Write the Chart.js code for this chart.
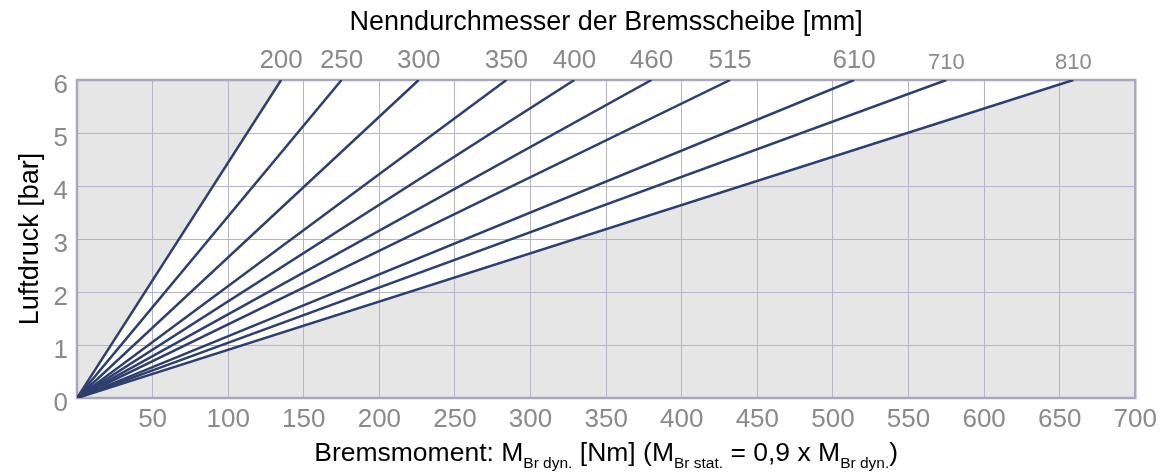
<!DOCTYPE html>
<html>
<head>
<meta charset="utf-8">
<script src="https://cdn.jsdelivr.net/npm/chart.js@4"></script>
<style>
  html, body { margin: 0; padding: 0; background: #fff; }
  #wrap { width: 1163px; height: 474px; }
</style>
</head>
<body>
<div id="wrap"><canvas id="grafico"></canvas></div>
<script>
// Nenndurchmesser der Bremsscheibe [mm] und Bremsmoment bei 6 bar
const durchmesser = ["200", "250", "300", "350", "400", "460", "515", "610", "710", "810"];
const momentBei6bar = [135, 175, 226, 284, 329, 380, 432, 514, 575, 659];
const druckMax = 6;
const xMax = 700;

const schrift = "'Liberation Sans', Arial, sans-serif";
const grau = "#8a8a8a";
const linie = "#2f3f6d";

const datasets = durchmesser.map((d, i) => ({
  label: d,
  data: [{ x: 0, y: 0 }, { x: momentBei6bar[i], y: druckMax }],
  borderColor: linie,
  borderWidth: 2.5,
  pointRadius: 0,
  fill: false,
}));

// grauer Hintergrund + weisser Keil zwischen erster und letzter Linie
const hintergrund = {
  id: "hintergrund",
  beforeDraw(chart) {
    const { ctx, chartArea: a, scales } = chart;
    const x = scales.x, y = scales.y;
    ctx.save();
    ctx.fillStyle = "#e6e6e6";
    ctx.fillRect(a.left, a.top, a.right - a.left, a.bottom - a.top);
    ctx.fillStyle = "#ffffff";
    ctx.beginPath();
    ctx.moveTo(x.getPixelForValue(0), y.getPixelForValue(0));
    ctx.lineTo(x.getPixelForValue(momentBei6bar[0]), y.getPixelForValue(druckMax));
    ctx.lineTo(x.getPixelForValue(momentBei6bar[momentBei6bar.length - 1]), y.getPixelForValue(druckMax));
    ctx.closePath();
    ctx.fill();
    ctx.restore();
  },
  beforeDatasetsDraw(chart) {
    const { ctx, chartArea: a } = chart;
    ctx.save();
    ctx.strokeStyle = "#a9a8bd";
    ctx.lineWidth = 2.5;
    ctx.strokeRect(a.left, a.top, a.right - a.left, a.bottom - a.top);
    ctx.restore();
  },
  afterDraw(chart) {
    // x-Achsentitel mit tiefgestellten Zeichen
    const { ctx, chartArea: a } = chart;
    const teile = [
      ["Bremsmoment: M", false],
      ["Br dyn.", true],
      [" [Nm] (M", false],
      ["Br stat.", true],
      [" = 0,9 x M", false],
      ["Br dyn.", true],
      [")", false],
    ];
    const gross = "26.5px " + schrift;
    const klein = "15.5px " + schrift;
    ctx.save();
    let breite = 0;
    teile.forEach(([t, sub]) => {
      ctx.font = sub ? klein : gross;
      breite += ctx.measureText(t).width;
    });
    let px = (a.left + a.right) / 2 - breite / 2;
    const basis = 461;
    ctx.fillStyle = "#000";
    ctx.textBaseline = "alphabetic";
    ctx.textAlign = "left";
    teile.forEach(([t, sub]) => {
      ctx.font = sub ? klein : gross;
      ctx.fillText(t, px, sub ? basis + 7 : basis);
      px += ctx.measureText(t).width;
    });
    ctx.restore();
  },
};

new Chart(document.getElementById("grafico"), {
  type: "line",
  data: { datasets },
  options: {
    responsive: true,
    maintainAspectRatio: false,
    animation: false,
    layout: { padding: { right: 26 } },
    plugins: { legend: { display: false }, tooltip: { enabled: false } },
    scales: {
      x: {
        type: "linear",
        position: "bottom",
        min: 0,
        max: xMax,
        ticks: {
          stepSize: 50,
          color: grau,
          padding: 6,
          maxRotation: 0,
          font: { family: schrift, size: 26 },
          callback: (v) => (v === 0 ? "" : v),
        },
        grid: { color: "#b5b4c8", lineWidth: 1, drawTicks: false },
        border: { display: false },
        afterFit: (s) => { s.height = 76; },
      },
      oben: {
        type: "linear",
        position: "top",
        min: 0,
        max: xMax,
        afterBuildTicks: (s) => {
          s.ticks = momentBei6bar.map((v) => ({ value: v }));
        },
        ticks: {
          autoSkip: false,
          maxRotation: 0,
          color: grau,
          padding: 4,
          font: (c) => ({ family: schrift, size: c.index >= 8 ? 22 : 26 }),
          callback: (v, i) => durchmesser[i],
        },
        grid: { display: false, drawTicks: false },
        border: { display: false },
        title: {
          display: true,
          text: "Nenndurchmesser der Bremsscheibe [mm]",
          color: "#000",
          font: { family: schrift, size: 27 },
          padding: { top: 6, bottom: 0 },
        },
        afterFit: (s) => { s.height = 80; },
      },
      y: {
        min: 0,
        max: druckMax,
        ticks: {
          stepSize: 1,
          color: grau,
          padding: 9,
          // leerer erster Zeile schiebt die Zahl etwas nach unten
          font: { family: schrift, size: 26, lineHeight: 0.46 },
          callback: (v) => ["", String(v)],
        },
        grid: { color: "#b5b4c8", lineWidth: 1, drawTicks: false },
        border: { display: false },
        title: {
          display: true,
          text: "Luftdruck [bar]",
          color: "#000",
          font: { family: schrift, size: 27 },
          padding: { top: 14, bottom: 0 },
        },
        afterFit: (s) => { s.width = 77; },
      },
    },
  },
  plugins: [hintergrund],
});
</script>
</body>
</html>
